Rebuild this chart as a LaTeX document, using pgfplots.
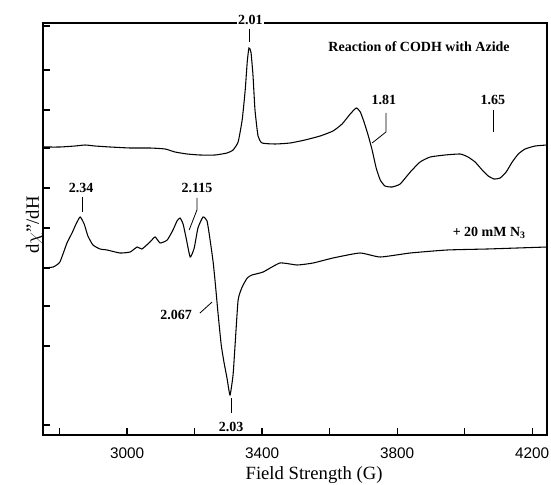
\documentclass[border=0pt]{standalone}
\usepackage{pgfplots}
\pgfplotsset{compat=1.18}
\usepackage{fontspec}
\setmainfont{Liberation Serif}
\setsansfont{Liberation Sans}
\begin{document}
\begin{tikzpicture}
\begin{axis}[
  scale only axis, width=378pt, height=309pt,
  xmin=2751, xmax=4244, ymin=23, ymax=435, y dir=reverse,
  axis line style={line width=1pt},
  tick style={line width=0.9pt, black},
  major tick length=5pt, minor tick length=5pt,
  xtick={3000,3400,3800,4200}, xticklabels={3000,3400,3800,4200},
  minor xtick={2800,3200,3600,4000},
  ytick={26,70,110,148,188,228,268,306,346,425}, yticklabels={},
  xtick pos=bottom, ytick pos=left, tick align=inside,
  xticklabel style={font=\sffamily\fontsize{11.5}{13}\selectfont, yshift=-6pt},
  clip=false,
]
% top spectrum: Reaction of CODH with Azide
\addplot[black, line width=0.8pt, smooth, tension=0.3] coordinates {
(2751,147) (2801,147) (2846,146) (2876,145) (2905,146) (2950,147) (3009,148)
(3068,148) (3113,149) (3142,152) (3178,154) (3216,155) (3261,155) (3296,153)
(3314,150) (3329,142) (3341,120) (3350,90) (3356,62) (3361,48) (3367,52)
(3373,75) (3379,110) (3388,136) (3400,143) (3439,144) (3483,143) (3527,140)
(3572,136) (3610,131) (3637,124) (3661,114) (3679,108) (3691,112) (3702,122)
(3714,135) (3726,150) (3738,168) (3750,180) (3764,186) (3785,187) (3809,184)
(3839,172) (3868,162) (3898,157) (3942,155) (3987,154) (4010,157) (4031,162)
(4052,170) (4070,176) (4087,179) (4105,178) (4123,172) (4141,162) (4159,154)
(4179,149) (4209,146) (4244,145)
};
% bottom spectrum: + 20 mM N3
\addplot[black, line width=0.8pt, smooth, tension=0.3] coordinates {
(2751,268) (2781,267) (2801,262) (2822,243) (2837,233) (2849,224) (2861,217)
(2873,224) (2884,236) (2899,245) (2920,249) (2941,250) (2979,253) (3009,252)
(3030,247) (3044,249) (3068,242) (3083,237) (3098,243) (3119,240) (3136,230)
(3148,221) (3157,218) (3166,224) (3175,238) (3187,257) (3199,248) (3210,228)
(3225,217) (3237,221) (3246,240) (3255,262) (3261,282) (3270,315) (3279,345)
(3287,362) (3296,378) (3305,395) (3314,375) (3320,345) (3329,300) (3341,287)
(3356,278) (3370,275) (3403,272) (3453,263) (3504,265) (3551,263) (3610,258)
(3690,253) (3750,257) (3839,253) (3948,250) (4067,249) (4156,248) (4244,247)
};
\coordinate (c201) at (axis cs:3365,20);
\begin{scope}[font=\bfseries\fontsize{10.5}{12}\selectfont]
\node at (axis cs:3865,47) {Reaction of CODH with Azide};
\node at (axis cs:3761,100) {1.81};
\draw[line width=0.6pt] (axis cs:3767,113) -- (axis cs:3767,132) -- (axis cs:3726,143);
\node at (axis cs:4084,100) {1.65};
\draw[line width=0.6pt] (axis cs:4084,110) -- (axis cs:4084,132);
\draw[line width=0.6pt] (axis cs:3361,29) -- (axis cs:3361,42);
\node at (axis cs:2864,188) {2.34};
\draw[line width=0.6pt] (axis cs:2867,197) -- (axis cs:2867,212);
\node at (axis cs:3207,188) {2.115};
\draw[line width=0.6pt] (axis cs:3207,198) -- (axis cs:3207,210) -- (axis cs:3184,230);
\node at (axis cs:3145,315) {2.067};
\draw[line width=0.6pt] (axis cs:3216,313) -- (axis cs:3252,302);
\node at (axis cs:3308,427) {2.03};
\draw[line width=0.6pt] (axis cs:3308,398) -- (axis cs:3308,413);
\node at (axis cs:4073,233) {+ 20 mM N\textsubscript{3}};
\end{scope}
\node[font=\fontsize{14}{16}\selectfont] at (axis cs:3554,475) {Field Strength (G)};
\node[font=\fontsize{14}{16}\selectfont, rotate=90] at (axis cs:2725,225) {d$\chi$"/dH};
\end{axis}
\node[fill=white, inner sep=1pt, font=\bfseries\fontsize{10.5}{12}\selectfont] at (c201) {2.01};
\pgfresetboundingbox
\path (current axis.south west) ++(-32.25pt,-37.5pt) rectangle ++(413.25pt,363.75pt);
\end{tikzpicture}
\end{document}
